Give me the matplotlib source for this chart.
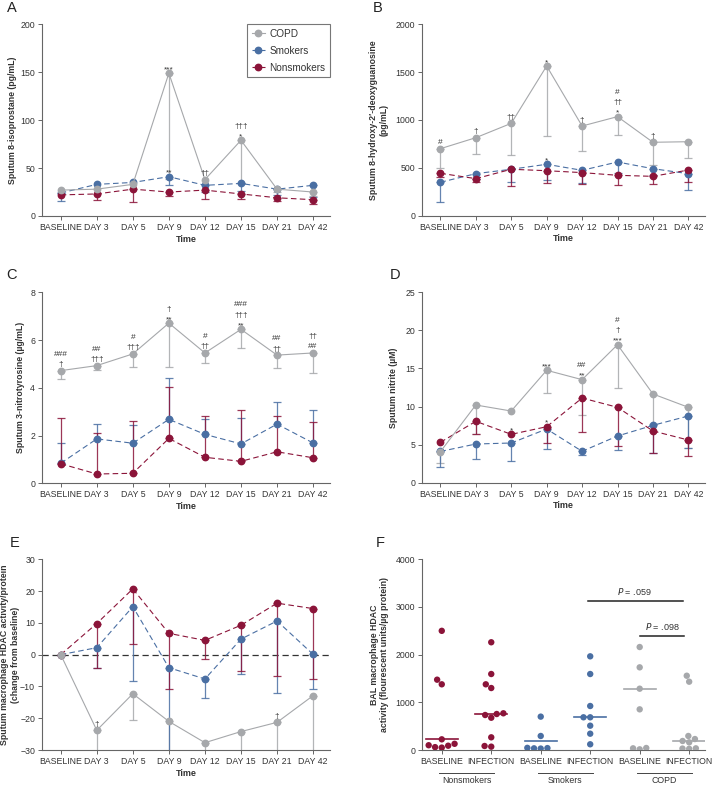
import numpy as np
import pandas as pd
import matplotlib
matplotlib.use("Agg")
import matplotlib.pyplot as plt
import seaborn as sns

plt.rcParams['font.family'] = ['Liberation Sans', 'DejaVu Sans']

days = ['BASELINE', 'DAY 3', 'DAY 5', 'DAY 9', 'DAY 12', 'DAY 15', 'DAY 21', 'DAY 42']
col = {'COPD': '#a6a8ab', 'Smokers': '#4a6fa3', 'Nonsmokers': '#8b1439'}
txt_col = '#333333'
spine_col = '#666666'

# ---- A: sputum 8-isoprostane (pg/mL), errors go down
iso_copd = [27, 28, 33, 149, 38, 79, 28, 25]
iso_copd_err = [0, 0, 0, 110, 0, 45, 3, 4]
iso_smk = [24, 33, 35, 41, 32, 34, 28, 32]
iso_smk_err = [8, 0, 0, 9, 7, 8, 6, 12]
iso_non = [22, 23, 28, 25, 27, 23, 19, 17]
iso_non_err = [0, 6.5, 13, 4.5, 9, 5, 3, 4]

# ---- B: 8-hydroxy-2'-deoxyguanosine (pg/mL), errors go down
ohdg_copd = [700, 815, 965, 1564, 937, 1035, 767, 773]
ohdg_copd_err = [200, 175, 334, 734, 261, 192, 237, 173]
ohdg_smk = [349, 439, 485, 537, 474, 561, 491, 439]
ohdg_smk_err = [203, 60, 130, 164, 130, 110, 70, 171]
ohdg_non = [443, 387, 485, 470, 450, 422, 411, 477]
ohdg_non_err = [40, 40, 175, 132, 119, 101, 80, 128]

# ---- C: 3-nitrotyrosine (ug/mL), COPD down, others up
nt_copd = [4.72, 4.93, 5.42, 6.71, 5.46, 6.45, 5.37, 5.46]
nt_copd_err = [0.36, 0.18, 0.55, 1.85, 0.43, 0.8, 0.53, 0.86]
nt_smk = [0.84, 1.86, 1.68, 2.68, 2.05, 1.65, 2.48, 1.69]
nt_smk_err = [0.84, 0.61, 0.76, 1.72, 0.63, 1.1, 0.94, 1.38]
nt_non = [0.82, 0.39, 0.42, 1.88, 1.09, 0.92, 1.32, 1.07]
nt_non_err = [1.93, 1.7, 2.18, 2.14, 1.73, 2.14, 1.5, 1.48]

# ---- D: nitrite (uM), errors go down
no2_copd = [4.07, 10.2, 9.41, 14.76, 13.53, 18.12, 11.65, 9.9]
no2_copd_err = [1.5, 3.8, 0, 3.0, 4.6, 5.7, 4.0, 5.3]
no2_smk = [4.1, 5.08, 5.21, 7.05, 4.12, 6.13, 7.53, 8.76]
no2_smk_err = [2.0, 1.97, 2.3, 2.6, 0.5, 1.8, 3.6, 4.2]
no2_non = [5.3, 8.06, 6.35, 7.35, 11.12, 9.9, 6.79, 5.6]
no2_non_err = [0, 1.7, 0, 2.2, 4.5, 5.1, 2.85, 2.1]

# ---- E: sputum HDAC change from baseline, errors go down
hdac_copd = [0, -23.8, -12.3, -21.0, -27.7, -24.2, -21.3, -12.9]
hdac_copd_err = [0, 10, 8.3, 12, 5, 8, 12, 20]
hdac_smk = [0, 2.2, 15.1, -4.1, -7.65, 4.9, 10.6, 0.1]
hdac_smk_err = [0, 6.3, 23.5, 27, 5.9, 11.1, 22.8, 11]
hdac_non = [0, 9.8, 20.7, 6.7, 4.5, 9.25, 16.2, 14.5]
hdac_non_err = [0, 13.9, 17.2, 17.4, 6, 14.4, 22.9, 22.1]

# significance marks: (day index, y value, lines top->bottom)
marks_A = [(3, 149, ['***']), (3, 41, ['**']), (4, 38, ['††']), (5, 79, ['†††', '*'])]
marks_B = [(0, 700, ['#']), (1, 815, ['†']), (2, 965, ['††']), (3, 1564, ['*']),
           (3, 537, ['*']), (4, 937, ['†']), (5, 1035, ['#', '††', '*']), (6, 767, ['†'])]
marks_C = [(0, 4.72, ['###', '†']), (1, 4.93, ['##', '†††']), (2, 5.42, ['#', '†††']),
           (3, 6.71, ['†', '**']), (4, 5.46, ['#', '††']), (5, 6.45, ['###', '†††', '**']),
           (6, 5.37, ['##', '††']), (7, 5.46, ['††', '##'])]
marks_D = [(2, 6.35, ['*']), (3, 7.35, ['*']), (3, 14.76, ['***']), (4, 13.53, ['##', '**']),
           (5, 18.12, ['#', '†', '***'])]
marks_E = [(1, -23.8, ['†']), (6, -21.3, ['†'])]

# ---- F: BAL macrophage HDAC activity
f_cats = ['BASELINE', 'INFECTION'] * 3
f_groups = ['Nonsmokers', 'Smokers', 'COPD']
f_vals = [
    [2500, 1475, 1378, 224, 130, 100, 90, 60, 50],
    [2260, 1594, 1378, 1300, 770, 755, 734, 677, 266, 84, 70],
    [700, 294, 40, 30, 35, 45],
    [1965, 1594, 923, 686, 686, 510, 342, 120],
    [2160, 1734, 1286, 853, 42, 14, 35],
    [1558, 1433, 294, 230, 189, 161, 35, 30, 25],
]
f_centre = [230, 755, 180, 686, 1290, 185]


def style_axes(ax):
    for s in ['top', 'right']:
        ax.spines[s].set_visible(False)
    for s in ['left', 'bottom']:
        ax.spines[s].set_color(spine_col)
        ax.spines[s].set_linewidth(0.8)
    ax.tick_params(colors=spine_col, labelcolor=txt_col, labelsize=6.3, length=3, width=0.7, pad=2)


def series(ax, y, err, name, down=True):
    c = col[name]
    x = np.arange(len(days))
    y = np.asarray(y, float)
    err = np.asarray(err, float)
    m = err > 0
    z = np.zeros(m.sum())
    yerr = [err[m], z] if down else [z, err[m]]
    ax.errorbar(x[m], y[m], yerr=yerr, fmt='none', ecolor=c, elinewidth=0.9,
                capsize=2.6, capthick=0.9, alpha=0.85, zorder=2)
    ls = '-' if name == 'COPD' else (0, (5, 3))
    ax.plot(x, y, linestyle=ls, color=c, lw=0.8, marker='o', ms=4.6,
            mfc=c, mec=c, zorder=3 if name != 'COPD' else 4, label=name)


def marks(ax, items):
    for xi, y, lines in items:
        off = None
        for s in reversed(lines):
            if off is None:
                off = 2 if s.startswith('*') else 4.5
            ax.annotate(s, (xi, y), xytext=(0, off), textcoords='offset pixels',
                        ha='center', va='baseline', fontsize=6, color=txt_col, zorder=5)
            off += 10.5


def set_ylabel(ax, text, xpos):
    ax.set_ylabel(text, fontsize=6.3, fontweight='bold', color=txt_col, linespacing=1.15)
    ax.yaxis.label.set_verticalalignment('center')
    ax.yaxis.set_label_coords(xpos, 0.5)


def line_panel(ax, data, ylim, yticks, ylabel, down_flags, lab_x):
    style_axes(ax)
    for (y, e, name), dn in zip(data, down_flags):
        series(ax, y, e, name, dn)
    ax.set_xlim(-0.52, 7.47)
    ax.set_ylim(*ylim)
    ax.set_yticks(yticks)
    ax.set_xticks(range(len(days)))
    ax.set_xticklabels(days)
    ax.set_xlabel('Time', fontsize=6.5, fontweight='bold', color=txt_col, labelpad=2)
    set_ylabel(ax, ylabel, lab_x)


fig = plt.figure(figsize=(7.14, 7.86), dpi=100)
L, R, W, W2 = 0.0588, 0.591, 0.4034, 0.3964
axA = fig.add_axes([L, 0.7252, W, 0.2439])
axB = fig.add_axes([R, 0.7256, W2, 0.2435])
axC = fig.add_axes([L, 0.3851, W, 0.2430])
axD = fig.add_axes([R, 0.3859, W2, 0.2422])
axE = fig.add_axes([L, 0.0458, W, 0.2426])
axF = fig.add_axes([R, 0.0458, W2, 0.2426])

line_panel(axA, [(iso_copd, iso_copd_err, 'COPD'), (iso_smk, iso_smk_err, 'Smokers'),
                 (iso_non, iso_non_err, 'Nonsmokers')],
           (0, 200), range(0, 201, 50), 'Sputum 8-isoprostane (pg/mL)', [True, True, True], -0.102)
marks(axA, marks_A)
leg = axA.legend(loc='upper right', borderaxespad=0, fontsize=7.2, frameon=True, fancybox=False,
                 handlelength=1.3, handletextpad=0.5, borderpad=0.45, labelspacing=0.7)
leg.get_frame().set_edgecolor('#555555')
leg.get_frame().set_linewidth(0.8)
for t in leg.get_texts():
    t.set_color(txt_col)

line_panel(axB, [(ohdg_copd, ohdg_copd_err, 'COPD'), (ohdg_smk, ohdg_smk_err, 'Smokers'),
                 (ohdg_non, ohdg_non_err, 'Nonsmokers')],
           (0, 2000), range(0, 2001, 500), 'Sputum 8-hydroxy-2′-deoxyguanosine\n(pg/mL)',
           [True, True, True], -0.152)
marks(axB, marks_B)

line_panel(axC, [(nt_copd, nt_copd_err, 'COPD'), (nt_smk, nt_smk_err, 'Smokers'),
                 (nt_non, nt_non_err, 'Nonsmokers')],
           (0, 8), range(0, 9, 2), 'Sputum 3-nitrotyrosine (µg/mL)', [True, False, False], -0.076)
marks(axC, marks_C)

line_panel(axD, [(no2_copd, no2_copd_err, 'COPD'), (no2_smk, no2_smk_err, 'Smokers'),
                 (no2_non, no2_non_err, 'Nonsmokers')],
           (0, 25), range(0, 26, 5), 'Sputum nitrite (µM)', [True, True, True], -0.099)
marks(axD, marks_D)

axE.axhline(0, color='#333333', lw=0.9, ls=(0, (5, 3)), zorder=1)
line_panel(axE, [(hdac_copd, hdac_copd_err, 'COPD'), (hdac_smk, hdac_smk_err, 'Smokers'),
                 (hdac_non, hdac_non_err, 'Nonsmokers')],
           (-30, 30), range(-30, 31, 10),
           'Sputum macrophage HDAC activity/protein\n(change from baseline)', [True, True, True],
           -0.111)
marks(axE, marks_E)

# ---- F
style_axes(axF)
keys = [f'{g}_{c}' for g in f_groups for c in ['BASELINE', 'INFECTION']]
rows = []
for k, vals in zip(keys, f_vals):
    for v in vals:
        rows.append((k, v))
df = pd.DataFrame(rows, columns=['cat', 'val'])
pal = {k: col[k.split('_')[0]] for k in keys}
sns.swarmplot(data=df, x='cat', y='val', hue='cat', order=keys, palette=pal, size=4.6,
              linewidth=0, legend=False, ax=axF, zorder=3)
for i, (k, c) in enumerate(zip(keys, f_centre)):
    axF.plot([i - 0.32, i + 0.32], [c, c], color=pal[k], lw=1.2, zorder=2)
axF.set_xlim(-0.4, 5.32)
axF.set_ylim(0, 4000)
axF.set_yticks(range(0, 4001, 1000))
axF.set_xticks(range(6))
axF.set_xticklabels(f_cats)
axF.set_xlabel('')
set_ylabel(axF, 'BAL macrophage HDAC\nactivity (flourescent units/µg protein)', -0.151)
tr = axF.get_xaxis_transform()
for i, g in enumerate(f_groups):
    axF.plot([2 * i - 0.05, 2 * i + 1.05], [-0.118, -0.118], transform=tr, clip_on=False,
             color='#444444', lw=0.7)
    axF.text(2 * i + 0.5, -0.135, g, transform=tr, ha='center', va='top', fontsize=6.3,
             color=txt_col)
# P-value bars
axF.plot([2.95, 4.87], [3130, 3130], color='#222222', lw=1.1)
axF.text(3.9, 3200, '$P$ = .059', ha='center', va='bottom', fontsize=6.5, color=txt_col)
axF.plot([4.0, 4.9], [2400, 2400], color='#222222', lw=1.1)
axF.text(4.45, 2470, '$P$ = .098', ha='center', va='bottom', fontsize=6.5, color=txt_col)

# panel letters
for lab, px, py in [('A', 7, 8), ('B', 373, 8), ('C', 6, 275), ('D', 390, 275),
                    ('E', 10, 543), ('F', 376, 543)]:
    fig.text(px / 714, 1 - py / 786, lab, fontsize=10.5, va='center', ha='left', color='#222222')

fig.savefig('out.png', dpi=100)
